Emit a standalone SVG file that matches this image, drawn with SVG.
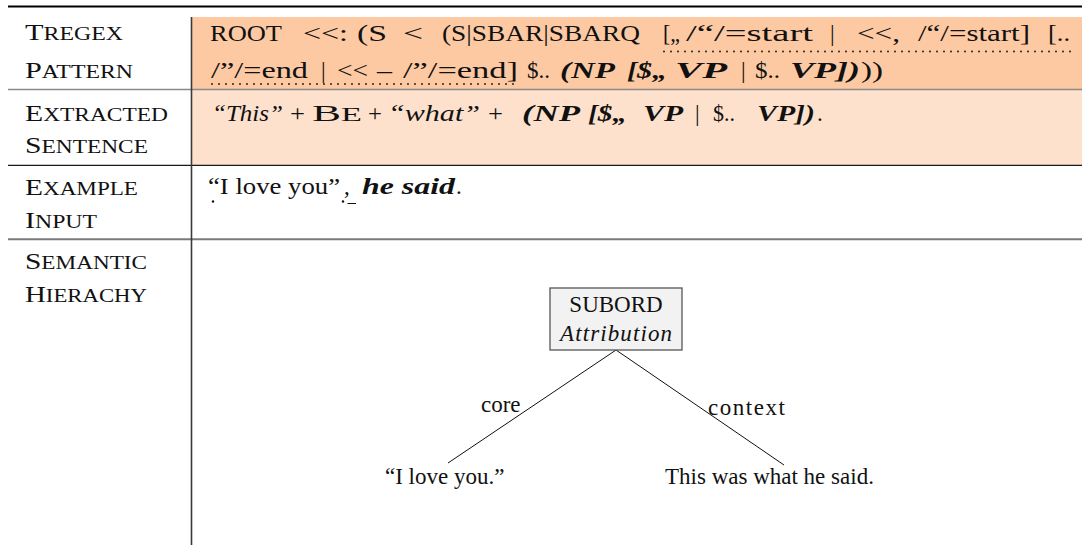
<svg xmlns="http://www.w3.org/2000/svg" width="1082" height="545" viewBox="0 0 1082 545">
<style>
text{font-family:"Liberation Serif","Times New Roman",serif;font-size:23px;fill:#111}
.i{font-style:italic}
.bi{font-style:italic;font-weight:bold}
.sc{font-size:18.5px}
.cap{font-size:23.5px}
.dots{stroke:#111;stroke-width:1.8;stroke-linecap:round;stroke-dasharray:0 7;fill:none}
.conn{stroke:#111;stroke-width:1;fill:none}
</style>
<rect width="1082" height="545" fill="#fff"/>
<g id="table">
  <rect x="192" y="17" width="890" height="73" fill="#FDC9A3"/>
  <rect x="192" y="90" width="890" height="75" fill="#FDE1CD"/>
  <line x1="8" y1="6.5" x2="1082" y2="6.5" stroke="#000" stroke-width="2.2"/>
  <line x1="8" y1="89.5" x2="1082" y2="89.5" stroke="#8a8a8a" stroke-width="1.3"/>
  <line x1="8" y1="165.3" x2="1082" y2="165.3" stroke="#1a1a1a" stroke-width="1.3"/>
  <line x1="8" y1="239.3" x2="1082" y2="239.3" stroke="#7a7a7a" stroke-width="2"/>
  <line x1="191.5" y1="17" x2="191.5" y2="545" stroke="#3a3a3a" stroke-width="1.6"/>
</g>
<g id="labels">
  <text x="25" y="40" textLength="98" lengthAdjust="spacingAndGlyphs"><tspan class="cap">T</tspan><tspan class="sc">REGEX</tspan></text>
  <text x="25" y="78" textLength="108" lengthAdjust="spacingAndGlyphs"><tspan class="cap">P</tspan><tspan class="sc">ATTERN</tspan></text>
  <text x="25" y="121" textLength="143" lengthAdjust="spacingAndGlyphs"><tspan class="cap">E</tspan><tspan class="sc">XTRACTED</tspan></text>
  <text x="25" y="153" textLength="123" lengthAdjust="spacingAndGlyphs"><tspan class="cap">S</tspan><tspan class="sc">ENTENCE</tspan></text>
  <text x="25" y="195" textLength="113" lengthAdjust="spacingAndGlyphs"><tspan class="cap">E</tspan><tspan class="sc">XAMPLE</tspan></text>
  <text x="25" y="228" textLength="72" lengthAdjust="spacingAndGlyphs"><tspan class="cap">I</tspan><tspan class="sc">NPUT</tspan></text>
  <text x="25" y="269" textLength="122" lengthAdjust="spacingAndGlyphs"><tspan class="cap">S</tspan><tspan class="sc">EMANTIC</tspan></text>
  <text x="25" y="302" textLength="122" lengthAdjust="spacingAndGlyphs"><tspan class="cap">H</tspan><tspan class="sc">IERACHY</tspan></text>
</g>
<g id="pattern">
  <text x="210" y="41" textLength="72" lengthAdjust="spacingAndGlyphs">ROOT</text>
  <text x="303" y="41" textLength="45" lengthAdjust="spacingAndGlyphs">&lt;&lt;:</text>
  <text x="357" y="41" textLength="30" lengthAdjust="spacingAndGlyphs">(S</text>
  <text x="403" y="41" textLength="20" lengthAdjust="spacingAndGlyphs">&lt;</text>
  <text x="442" y="41" textLength="198" lengthAdjust="spacingAndGlyphs">(S|SBAR|SBARQ</text>
  <text x="663" y="41" textLength="17" lengthAdjust="spacingAndGlyphs">[„</text>
  <text x="686" y="41" textLength="127" lengthAdjust="spacingAndGlyphs">/“/=start</text>
  <text x="830" y="41">|</text>
  <text x="857" y="41" textLength="43" lengthAdjust="spacingAndGlyphs">&lt;&lt;,</text>
  <text x="918" y="41" textLength="112" lengthAdjust="spacingAndGlyphs">/“/=start]</text>
  <text x="1048" y="41" textLength="22" lengthAdjust="spacingAndGlyphs">[..</text>
  <line class="dots" x1="664" y1="51.5" x2="1072" y2="51.5"/>
  <text x="211" y="78" textLength="97" lengthAdjust="spacingAndGlyphs">/”/=end</text>
  <text x="321" y="78">|</text>
  <text x="337" y="78" textLength="31" lengthAdjust="spacingAndGlyphs">&lt;&lt;</text>
  <text x="377" y="78" textLength="15" lengthAdjust="spacingAndGlyphs">–</text>
  <text x="403" y="78" textLength="115" lengthAdjust="spacingAndGlyphs">/”/=end]</text>
  <text x="527" y="78" textLength="23" lengthAdjust="spacingAndGlyphs">$..</text>
  <text class="bi" x="560" y="78" textLength="55" lengthAdjust="spacingAndGlyphs">(NP</text>
  <text class="bi" x="627" y="78" textLength="40" lengthAdjust="spacingAndGlyphs">[$„</text>
  <text class="bi" x="675" y="78" textLength="52" lengthAdjust="spacingAndGlyphs">VP</text>
  <text x="741" y="78">|</text>
  <text x="755" y="78" textLength="25" lengthAdjust="spacingAndGlyphs">$..</text>
  <text class="bi" x="790" y="78" textLength="70" lengthAdjust="spacingAndGlyphs">VP])</text>
  <text x="861" y="78" textLength="22" lengthAdjust="spacingAndGlyphs">))</text>
  <line class="dots" x1="212" y1="84" x2="518" y2="84"/>
</g>
<g id="extracted">
  <text class="i" x="212" y="121" textLength="71" lengthAdjust="spacingAndGlyphs">“This”</text>
  <text x="290" y="121" textLength="15" lengthAdjust="spacingAndGlyphs">+</text>
  <text x="312" y="121" textLength="50" lengthAdjust="spacingAndGlyphs"><tspan class="cap">B</tspan><tspan class="sc">E</tspan></text>
  <text x="368" y="121" textLength="14" lengthAdjust="spacingAndGlyphs">+</text>
  <text class="i" x="388" y="121" textLength="92" lengthAdjust="spacingAndGlyphs">“what”</text>
  <text x="488" y="121" textLength="15" lengthAdjust="spacingAndGlyphs">+</text>
  <text class="bi" x="522" y="121" textLength="58" lengthAdjust="spacingAndGlyphs">(NP</text>
  <text class="bi" x="588" y="121" textLength="39" lengthAdjust="spacingAndGlyphs">[$„</text>
  <text class="bi" x="643" y="121" textLength="40" lengthAdjust="spacingAndGlyphs">VP</text>
  <text x="695" y="121">|</text>
  <text x="713" y="121" textLength="22" lengthAdjust="spacingAndGlyphs">$..</text>
  <text class="bi" x="757" y="121" textLength="58" lengthAdjust="spacingAndGlyphs">VP])</text>
  <text x="817" y="121">.</text>
</g>
<g id="example">
  <text x="208" y="194" textLength="132" lengthAdjust="spacingAndGlyphs">“I love you”</text>
  <text x="344" y="194">,</text>
  <text class="bi" x="362" y="194" textLength="93" lengthAdjust="spacingAndGlyphs">he said</text>
  <text x="456" y="194">.</text>
  <circle cx="213" cy="201.5" r="1.2" fill="#111"/>
  <circle cx="343" cy="201.5" r="1.2" fill="#111"/>
  <line x1="347.5" y1="203.5" x2="356" y2="203.5" stroke="#111" stroke-width="1"/>
</g>
<g id="connectors">
  <line class="conn" x1="616" y1="350" x2="448" y2="463"/>
  <line class="conn" x1="616" y1="350" x2="784" y2="465"/>
  <text x="481" y="412">core</text>
  <text x="708" y="415" textLength="77" lengthAdjust="spacing">context</text>
</g>
<g id="node-subord">
  <rect x="550" y="288" width="132" height="62" fill="#f2f2f2" stroke="#555" stroke-width="1.3"/>
  <text x="616" y="312" text-anchor="middle" font-size="24">SUBORD</text>
  <text class="i" x="560" y="341" font-size="24" textLength="112" lengthAdjust="spacing">Attribution</text>
</g>
<g id="node-core">
  <text x="385" y="484">“I love you.”</text>
</g>
<g id="node-context">
  <text x="665" y="484">This was what he said.</text>
</g>
</svg>
